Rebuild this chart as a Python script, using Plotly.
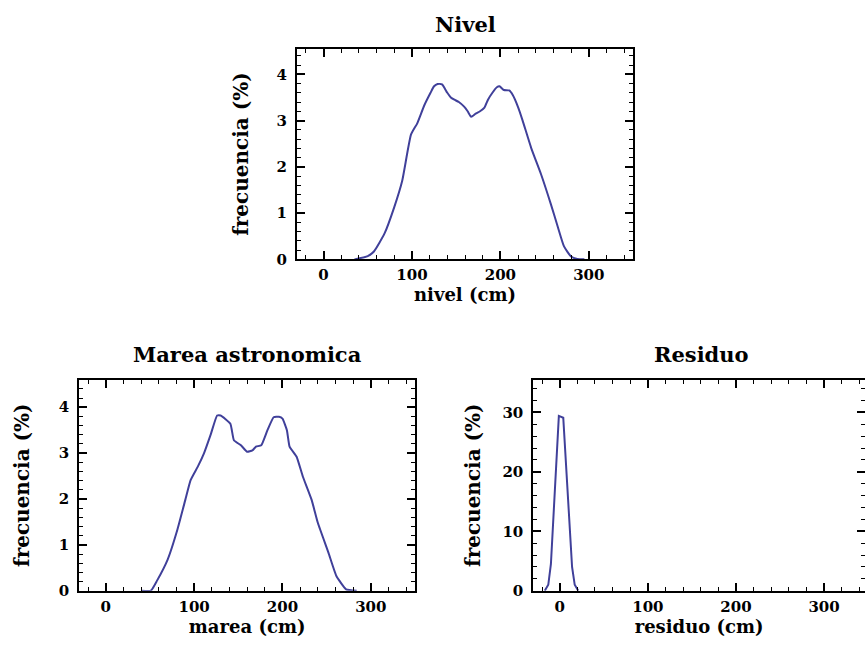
import plotly.graph_objects as go

# ---------------- data ----------------
nivel_x = [35, 50, 57, 69, 80, 89, 99, 106, 114, 121, 125, 129, 134, 140, 144, 148, 153,
           159, 163, 167, 172, 177, 182, 186, 191, 196, 199, 204, 210, 214, 220, 225, 235,
           246, 257, 265, 272, 280, 287, 295]
nivel_y = [0, 0.07, 0.17, 0.56, 1.13, 1.70, 2.70, 2.94, 3.33, 3.60, 3.74, 3.79, 3.78, 3.60,
           3.50, 3.45, 3.40, 3.30, 3.20, 3.08, 3.15, 3.20, 3.28, 3.45, 3.60, 3.72, 3.74, 3.66,
           3.65, 3.55, 3.29, 3.01, 2.40, 1.84, 1.20, 0.70, 0.28, 0.06, 0.01, 0]

marea_x = [40, 51, 58, 70, 81, 90, 96, 104, 111, 119, 126, 130, 141, 145, 153, 160, 166,
           170, 176, 183, 190, 196, 200, 205, 208, 216, 223, 233, 240, 252, 261, 272, 284]
marea_y = [0, 0, 0.22, 0.68, 1.33, 1.98, 2.41, 2.70, 2.99, 3.42, 3.82, 3.82, 3.64, 3.28,
           3.17, 3.03, 3.06, 3.14, 3.17, 3.50, 3.78, 3.79, 3.75, 3.50, 3.14, 2.92, 2.49,
           1.98, 1.48, 0.83, 0.32, 0.03, 0]

resid_x = [-17, -13, -10, -5, -1, 4, 8, 12, 14, 17, 21]
resid_y = [0, 1.0, 4.5, 18.0, 29.4, 29.1, 19.0, 8.0, 4.0, 1.0, 0]

titles = ["Nivel", "Marea astronomica", "Residuo"]
xtitles = ["nivel (cm)", "marea (cm)", "residuo (cm)"]
ytitle = "frecuencia (%)"

# ---------------- layout helpers ----------------
W, H = 865, 651
def fx(px):
    return px / W
def fy(py):
    return 1 - py / H

LINE = "#40409a"
FONT = "DejaVu Serif"
tickfont = dict(family=FONT, size=15, color="black", weight="bold")
xtitlefont = dict(family=FONT, size=18, color="black", weight="bold")
ytitlefont = dict(family=FONT, size=20, color="black", weight="bold")
headfont = dict(family=FONT, size=21, color="black", weight="bold")

def xax(domain, rng, anchor, title, mirror="ticks"):
    return dict(domain=domain, range=rng, anchor=anchor, showline=True, linecolor="black",
                linewidth=2, mirror=mirror, ticks="inside", ticklen=8, tickwidth=1.5,
                tickcolor="black", dtick=100, tick0=0, showgrid=False, zeroline=False,
                ticklabelstandoff=1,
                minor=dict(dtick=20, tick0=0, ticks="inside", ticklen=4, tickwidth=1.2,
                           tickcolor="black", showgrid=False),
                tickfont=tickfont, title=dict(text=title, font=xtitlefont, standoff=0))

def yax(domain, rng, anchor, dtick, mdtick, standoff, mirror="ticks"):
    return dict(domain=domain, range=rng, anchor=anchor, showline=True, linecolor="black",
                linewidth=2, mirror=mirror, ticks="inside", ticklen=8, tickwidth=1.5,
                tickcolor="black", dtick=dtick, tick0=0, showgrid=False, zeroline=False,
                ticklabelstandoff=5,
                minor=dict(dtick=mdtick, tick0=0, ticks="inside", ticklen=4, tickwidth=1.2,
                           tickcolor="black", showgrid=False),
                tickfont=tickfont, title=dict(text=ytitle, font=ytitlefont, standoff=standoff))

fig = go.Figure()
fig.add_trace(go.Scatter(x=nivel_x, y=nivel_y, mode="lines", xaxis="x", yaxis="y",
                         line=dict(color=LINE, width=2, shape="spline", smoothing=0.5),
                         showlegend=False))
fig.add_trace(go.Scatter(x=marea_x, y=marea_y, mode="lines", xaxis="x2", yaxis="y2",
                         line=dict(color=LINE, width=2, shape="spline", smoothing=0.4),
                         showlegend=False))
fig.add_trace(go.Scatter(x=resid_x, y=resid_y, mode="lines", xaxis="x3", yaxis="y3",
                         line=dict(color=LINE, width=2), showlegend=False))
# empty trace so the right-side tick axis of the cut-off panel is drawn
fig.add_trace(go.Scatter(x=[], y=[], mode="lines", xaxis="x3", yaxis="y4",
                         showlegend=False, hoverinfo="skip"))

top_dom_y = [fy(263), fy(49.5)]
bot_dom_y = [fy(599), fy(385)]
r3_end = (W - 559.0) / 0.8833

fig.update_layout(
    width=W, height=H, margin=dict(l=0, r=0, t=0, b=0),
    paper_bgcolor="white", plot_bgcolor="white",
    xaxis=xax([fx(297), fx(633)], [-30, 350], "y", xtitles[0]),
    yaxis=yax(top_dom_y, [0, 4.55], "x", 1, 0.2, 23),
    xaxis2=xax([fx(79.3), fx(415)], [-30, 350], "y2", xtitles[1]),
    yaxis2=yax(bot_dom_y, [0, 4.6], "x2", 1, 0.2, 24),
    xaxis3=xax([fx(533.3), 1.0], [-30, r3_end], "y3", xtitles[2]),
    yaxis3=yax(bot_dom_y, [0, 35.5], "x3", 10, 2, 16, mirror=False),
    yaxis4=dict(overlaying="y3", side="right", anchor="x3", range=[0, 35.5], showline=False,
                ticks="inside", ticklen=8, tickwidth=1.5, tickcolor="black", dtick=10, tick0=0,
                showticklabels=False, showgrid=False, zeroline=False,
                minor=dict(dtick=2, tick0=0, ticks="inside", ticklen=4, tickwidth=1.2,
                           tickcolor="black", showgrid=False)),
    annotations=[
        dict(text=titles[0], x=fx(465), y=fy(25), xref="paper", yref="paper",
             showarrow=False, xanchor="center", yanchor="middle", font=headfont),
        dict(text=titles[1], x=fx(247), y=fy(359), xref="paper", yref="paper",
             showarrow=False, xanchor="center", yanchor="middle", font=headfont),
        dict(text=titles[2], x=fx(701), y=fy(359), xref="paper", yref="paper",
             showarrow=False, xanchor="center", yanchor="middle", font=headfont),
    ],
)

# remove the browser's default 8px body margin so the figure fills the window exactly
fig.write_html("out.html", config={"displayModeBar": False},
               post_script="document.body.style.margin='0';")
